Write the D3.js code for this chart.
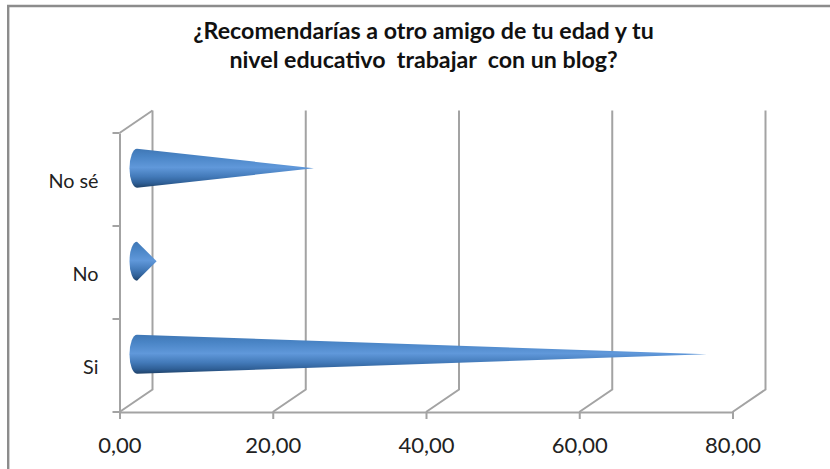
<!DOCTYPE html>
<html><head><meta charset="utf-8">
<style>html,body{margin:0;background:#fff}svg{display:block}</style>
<script src="https://cdn.jsdelivr.net/npm/d3@7"></script></head>
<body><script>
const categories = ["Si","No","No sé"];
const values = [74.36,2.56,23.08];
const xTicks = [0,20,40,60,80];
const titleLines = ["¿Recomendarías a otro amigo de tu edad y tu","nivel educativo  trabajar  con un blog?"];

const W=830,H=469, depthX=33, depthY=-22.5, grey="#a3a3a3";
const x=d3.scaleLinear().domain([0,80]).range([119.5,732.5]);
const y=d3.scaleBand().domain(categories).range([412,133]);
const svg=d3.select("body").append("svg").attr("width",W).attr("height",H);
const defs=svg.append("defs");
const grad=defs.append("linearGradient").attr("id","cone").attr("x1",0).attr("x2",0).attr("y1",0).attr("y2",1);
[[0,"#3f77b5"],[.2,"#4a85c6"],[.48,"#6098da"],[.72,"#4279b8"],[.88,"#2f5f96"],[1,"#1f4268"]]
 .forEach(([o,c])=>grad.append("stop").attr("offset",o).attr("stop-color",c));

// chart frame
svg.append("path").attr("d",`M8.2,469V6H${W}`).attr("fill","none").attr("stroke","#8c8c8c").attr("stroke-width",2.4);

// title
svg.append("text").attr("text-anchor","middle").attr("font-family","Lato").attr("font-weight",700)
 .attr("font-size",23.2).attr("fill","#111").style("white-space","pre")
 .selectAll("tspan").data(titleLines).join("tspan").attr("x",423.5).attr("y",(d,i)=>39+i*29).text(d=>d);

const wall=svg.append("g").attr("fill","none").attr("stroke",grey).attr("stroke-width",2);
// back wall gridlines and floor diagonals
wall.selectAll(".g").data(xTicks).join("path")
 .attr("d",d=>`M${x(d)},${y.range()[0]}L${x(d)+depthX},${y.range()[0]+depthY}V${y.range()[1]+depthY}`);
// left wall top diagonal
wall.append("path").attr("d",`M${x(0)},${y.range()[1]}L${x(0)+depthX},${y.range()[1]+depthY}`);

// axes
const fmt=d=>d3.format(".2f")(d).replace(".",",");
const ax=svg.append("g").attr("transform",`translate(0,${y.range()[0]})`)
 .call(d3.axisBottom(x).tickValues(xTicks).tickFormat(fmt).tickSizeInner(7).tickSizeOuter(0).tickPadding(18));
const ay=svg.append("g").attr("transform",`translate(${x(0)},0)`)
 .call(d3.axisLeft(y).tickSize(0).tickPadding(21));
// category separators (ticks between bands)
const bw=y.step();
svg.append("g").attr("stroke",grey).attr("stroke-width",2).selectAll("line")
 .data(d3.range(categories.length+1)).join("line")
 .attr("x1",x(0)-7).attr("x2",x(0)).attr("y1",i=>y.range()[0]-i*bw).attr("y2",i=>y.range()[0]-i*bw);
[ax,ay].forEach(a=>{
  a.selectAll(".domain,.tick line").attr("stroke",grey).attr("stroke-width",2);
  a.selectAll("text").attr("font-family","Lato").attr("fill","#222");
});
ax.selectAll("text").attr("font-size",22);
ay.selectAll("text").attr("font-size",19.8).attr("dy","0.42em");

// cones
const ry=19.5, rx=7.5, midX=depthX/2, midY=depthY/2;
svg.append("g").selectAll("path").data(categories).join("path")
 .attr("fill","url(#cone)")
 .attr("d",(c,i)=>{
   const cy=y(c)+bw/2+midY, x0=x(0)+midX+1, x1=x(values[i])+midX+1;
   return `M${x0},${cy-ry}A${rx},${ry} 0 0 0 ${x0},${cy+ry}L${x1},${cy}Z`;
 });
</script></body></html>
